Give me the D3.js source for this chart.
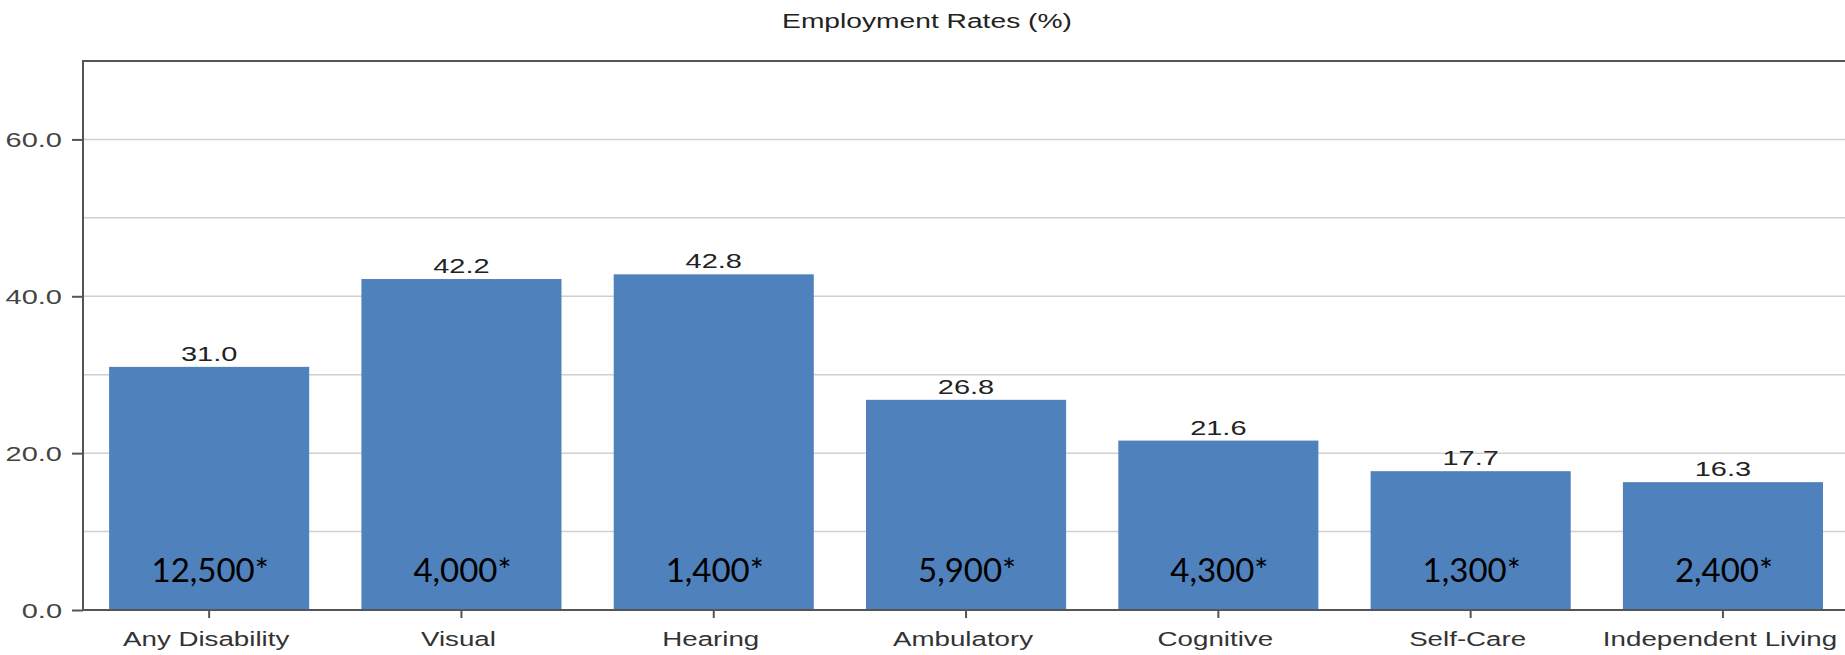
<!DOCTYPE html>
<html>
<head>
<meta charset="utf-8">
<script src="https://cdn.jsdelivr.net/npm/d3@7"></script>
<style>
  html, body { margin: 0; padding: 0; background: #fff; overflow: hidden; }
  svg { display: block; }
</style>
</head>
<body>
<svg id="chart" width="1845" height="655"></svg>
<script>
const categories = ["Any Disability", "Visual", "Hearing", "Ambulatory", "Cognitive", "Self-Care", "Independent Living"];
const rates = [31.0, 42.2, 42.8, 26.8, 21.6, 17.7, 16.3];
const counts = ["12,500*", "4,000*", "1,400*", "5,900*", "4,300*", "1,300*", "2,400*"];
const yTickLabels = [0, 20, 40, 60];
const yGridValues = [10, 20, 30, 40, 50, 60];
const title = "Employment Rates (%)";

const W = 1845, H = 655;
const margin = { left: 83, top: 61, bottom: 610 };
const SX = 1.38; // horizontal stretch of the text in the reference
const SXCAT = 1.32;

const svg = d3.select("#chart");

const x = d3.scaleBand()
  .domain(categories)
  .range([margin.left, margin.left + 7 * 252.3])
  .paddingInner(0.207)
  .paddingOuter(0.1035);

const y = d3.scaleLinear().domain([0, 70]).range([margin.bottom, margin.top]);

function stretchedText(g, px, py, txt, sx) {
  return g.append("text")
    .attr("transform", `translate(${px},${py}) scale(${sx || SX},1)`)
    .text(txt);
}

// gridlines
svg.append("g").selectAll("line").data(yGridValues).join("line")
  .attr("x1", margin.left).attr("x2", W)
  .attr("y1", d => y(d)).attr("y2", d => y(d))
  .attr("stroke", "#d0d0d0").attr("stroke-width", 1.5);

// bars
svg.append("g").selectAll("rect").data(categories).join("rect")
  .attr("x", d => x(d))
  .attr("width", x.bandwidth())
  .attr("y", (d, i) => y(rates[i]))
  .attr("height", (d, i) => y(0) - y(rates[i]))
  .attr("fill", "#4F81BD");

// top border
svg.append("line")
  .attr("x1", margin.left - 1).attr("x2", W)
  .attr("y1", y(70)).attr("y2", y(70))
  .attr("stroke", "#555").attr("stroke-width", 2);

// y axis
const yAxis = d3.axisLeft(y).tickValues(yTickLabels).tickFormat(d3.format(".1f")).tickSize(11).tickPadding(9);
const yg = svg.append("g").attr("transform", `translate(${margin.left},0)`).call(yAxis);
yg.select(".domain").attr("stroke", "#555").attr("stroke-width", 2).attr("d", `M-0,${y(70)}V${y(0)}`);
yg.selectAll(".tick line").attr("stroke", "#555").attr("stroke-width", 2);
yg.selectAll(".tick text").remove();
yg.selectAll(".tick").each(function(d) {
  d3.select(this).append("text")
    .attr("transform", `translate(-21,7) scale(${SX},1)`)
    .attr("text-anchor", "end")
    .attr("fill", "#444")
    .attr("font-family", "Liberation Sans, Arial, sans-serif")
    .attr("font-size", 21)
    .text(d3.format(".1f")(d));
});

// x axis
const xAxis = d3.axisBottom(x).tickSize(8).tickSizeOuter(0).tickFormat("");
const xg = svg.append("g").attr("transform", `translate(0,${y(0)})`).call(xAxis);
xg.select(".domain").attr("stroke", "#555").attr("stroke-width", 2).attr("d", `M${margin.left - 1},0H${W}`);
xg.selectAll(".tick line").attr("stroke", "#555").attr("stroke-width", 2);
xg.selectAll(".tick").each(function(d) {
  d3.select(this).append("text")
    .attr("transform", `translate(-3,36) scale(${SXCAT},1)`)
    .attr("text-anchor", "middle")
    .attr("fill", "#333")
    .attr("font-family", "Liberation Sans, Arial, sans-serif")
    .attr("font-size", 21)
    .text(d);
});

// value labels
const vl = svg.append("g")
  .attr("font-family", "Liberation Sans, Arial, sans-serif")
  .attr("font-size", 21).attr("fill", "#222").attr("text-anchor", "middle");
categories.forEach((c, i) => {
  stretchedText(vl, x(c) + x.bandwidth() / 2, y(rates[i]) - 6, d3.format(".1f")(rates[i]));
});

// count labels
const cl = svg.append("g")
  .attr("font-family", "Lato, Carlito, sans-serif")
  .attr("font-size", 33).attr("fill", "#000").attr("text-anchor", "middle");
categories.forEach((c, i) => {
  cl.append("text")
    .attr("x", x(c) + x.bandwidth() / 2 + 1)
    .attr("y", 582)
    .text(counts[i]);
});

// title
svg.append("g")
  .attr("font-family", "Liberation Sans, Arial, sans-serif")
  .attr("font-size", 20).attr("fill", "#222").attr("text-anchor", "middle")
  .call(g => stretchedText(g, 927, 28, title, 1.41));
</script>
</body>
</html>
